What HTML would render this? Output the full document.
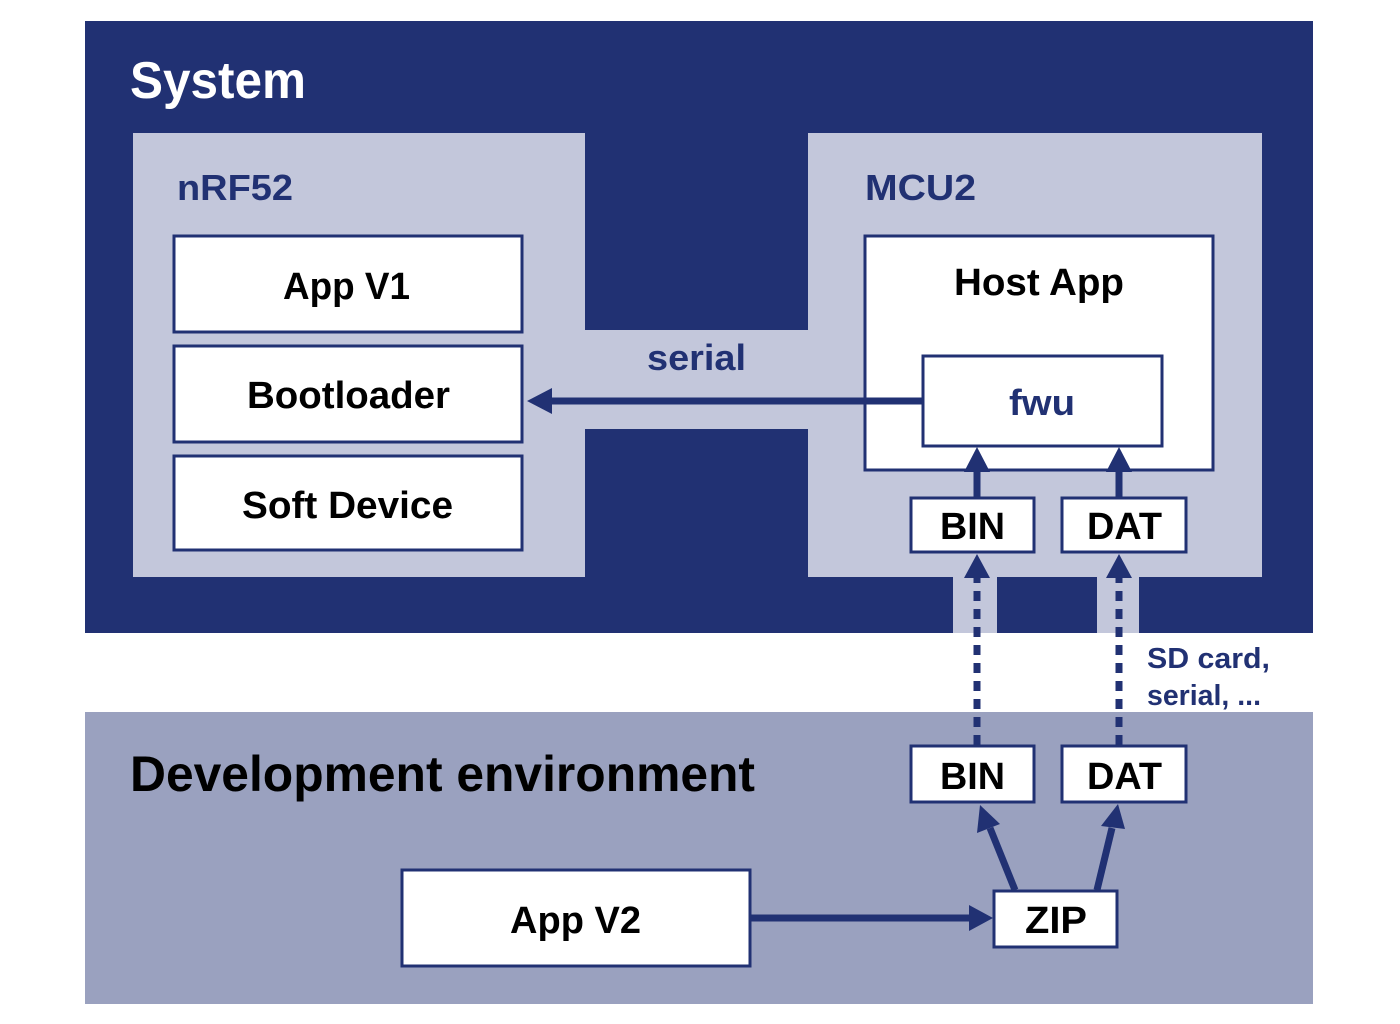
<!DOCTYPE html>
<html><head><meta charset="utf-8"><style>html,body{margin:0;padding:0;background:#fff}svg{display:block}</style></head>
<body>
<svg width="1400" height="1024" viewBox="0 0 1400 1024" xmlns="http://www.w3.org/2000/svg" font-family="Liberation Sans, sans-serif" font-weight="bold">
<rect x="0" y="0" width="1400" height="1024" fill="#fff"/>
<rect x="85" y="21" width="1228" height="612" fill="#213173"/>
<rect x="85" y="712" width="1228" height="292" fill="#9aa1bf"/>
<g fill="#c3c7db">
<rect x="133" y="133" width="452" height="444"/>
<rect x="808" y="133" width="454" height="444"/>
<rect x="585" y="330" width="223" height="99"/>
<rect x="953" y="577" width="44" height="56"/>
<rect x="1097" y="577" width="42" height="56"/>
</g>
<g fill="#fff" stroke="#213173" stroke-width="3">
<rect x="174" y="236" width="348" height="96"/>
<rect x="174" y="346" width="348" height="96"/>
<rect x="174" y="456" width="348" height="94"/>
<rect x="865" y="236" width="348" height="234"/>
<rect x="923" y="356" width="239" height="90"/>
<rect x="911" y="498" width="123" height="54"/>
<rect x="1062" y="498" width="124" height="54"/>
<rect x="911" y="746" width="123" height="56"/>
<rect x="1062" y="746" width="124" height="56"/>
<rect x="402" y="870" width="348" height="96"/>
<rect x="994" y="891" width="123" height="56"/>
</g>
<g stroke="#213173" fill="none">
<line x1="922" y1="401" x2="545" y2="401" stroke-width="7"/>
<line x1="977" y1="498" x2="977" y2="468" stroke-width="7"/>
<line x1="1119" y1="498" x2="1119" y2="468" stroke-width="7"/>
<line x1="977" y1="745" x2="977" y2="578" stroke-width="7" stroke-dasharray="10,8"/>
<line x1="1119" y1="745" x2="1119" y2="578" stroke-width="7" stroke-dasharray="10,8"/>
<line x1="751" y1="918" x2="975" y2="918" stroke-width="7"/>
<line x1="1015" y1="890" x2="990" y2="828" stroke-width="7"/>
<line x1="1097" y1="890" x2="1112" y2="828" stroke-width="7"/>
</g>
<g fill="#213173">
<polygon points="527,401 552,388 552,414"/>
<polygon points="977,447 964,472 990,472"/>
<polygon points="1119,447 1106,472 1132,472"/>
<polygon points="977,554 964,578 990,578"/>
<polygon points="1119,554 1106,578 1132,578"/>
<polygon points="993,918 969,905 969,931"/>
<polygon points="980,805 977,833 1000,824"/>
<polygon points="1118,804 1101,826 1125,829"/>
</g>
<text x="130" y="98" font-size="52" fill="#fff" textLength="176" lengthAdjust="spacingAndGlyphs">System</text>
<text x="130" y="791" font-size="50" fill="#000" textLength="625" lengthAdjust="spacingAndGlyphs">Development environment</text>
<g fill="#213173" font-size="36">
<text x="177" y="200" textLength="116" lengthAdjust="spacingAndGlyphs">nRF52</text>
<text x="865" y="200" textLength="111" lengthAdjust="spacingAndGlyphs">MCU2</text>
<text x="647" y="370" textLength="99" lengthAdjust="spacingAndGlyphs">serial</text>
<text x="1009" y="415" textLength="66" lengthAdjust="spacingAndGlyphs">fwu</text>
</g>
<g fill="#213173" font-size="29">
<text x="1147" y="668" textLength="123" lengthAdjust="spacingAndGlyphs">SD card,</text>
<text x="1147" y="705" textLength="114" lengthAdjust="spacingAndGlyphs">serial, ...</text>
</g>
<g fill="#000" font-size="38">
<text x="283" y="299" textLength="127" lengthAdjust="spacingAndGlyphs">App V1</text>
<text x="247" y="408" textLength="203" lengthAdjust="spacingAndGlyphs">Bootloader</text>
<text x="242" y="518" textLength="211" lengthAdjust="spacingAndGlyphs">Soft Device</text>
<text x="954" y="295" textLength="170" lengthAdjust="spacingAndGlyphs">Host App</text>
<text x="940" y="539" textLength="65" lengthAdjust="spacingAndGlyphs">BIN</text>
<text x="1087" y="539" textLength="75" lengthAdjust="spacingAndGlyphs">DAT</text>
<text x="940" y="789" textLength="65" lengthAdjust="spacingAndGlyphs">BIN</text>
<text x="1087" y="789" textLength="75" lengthAdjust="spacingAndGlyphs">DAT</text>
<text x="510" y="933" textLength="131" lengthAdjust="spacingAndGlyphs">App V2</text>
<text x="1025" y="933" textLength="62" lengthAdjust="spacingAndGlyphs">ZIP</text>
</g>
</svg>
</body></html>
